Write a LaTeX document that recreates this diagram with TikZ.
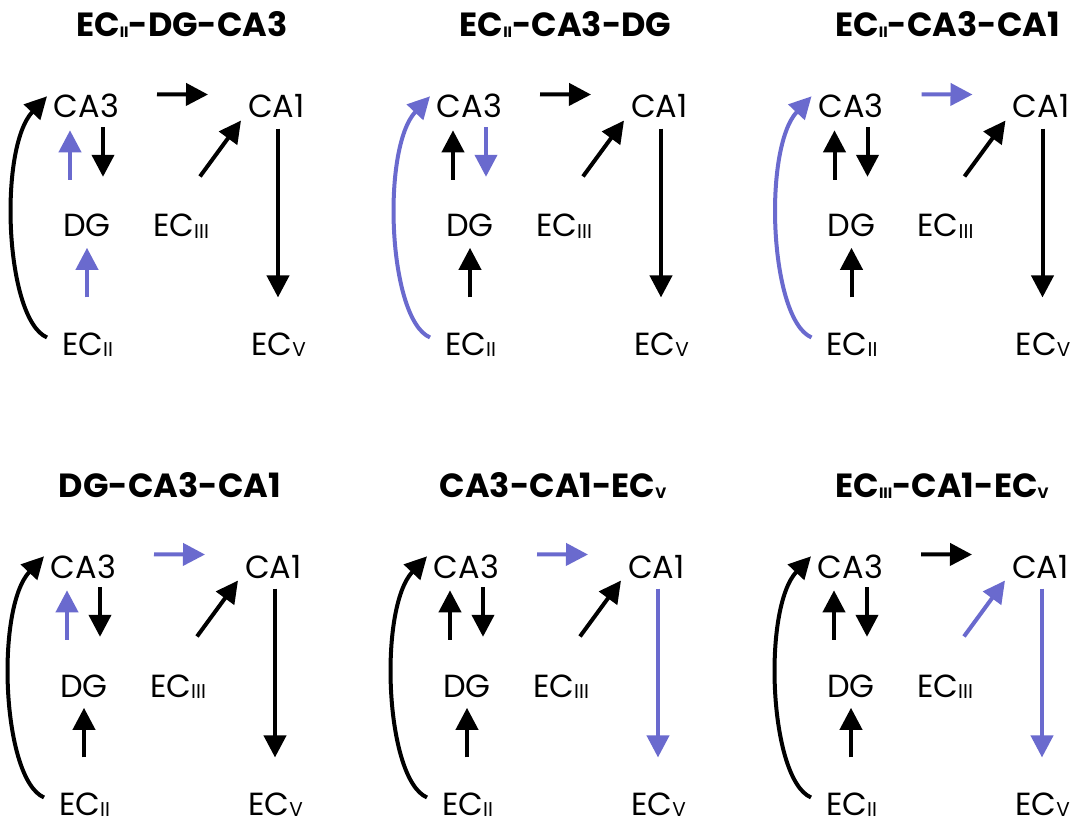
\documentclass[tikz,border=0pt]{standalone}
\usepackage{fontspec}
\setmainfont{Poppins}
\usetikzlibrary{arrows.meta,calc}
\definecolor{bl}{RGB}{106,106,206}
\newcommand\lsub[1]{\raisebox{-1.5pt}{\fontsize{20}{20}\selectfont #1}}
\newcommand\tsub[1]{\raisebox{-1pt}{\fontsize{15}{15}\selectfont\bfseries #1}}
\tikzset{
  lbl/.style={anchor=base, inner sep=0pt, font=\fontsize{32}{32}\selectfont},
  ttl/.style={anchor=base, inner sep=0pt, font=\fontsize{33.5}{33.5}\selectfont\bfseries},
  arr/.style={line width=4pt, -{Triangle[length=22pt,width=22pt]}},
  hl/.style={color=bl},
  ccur/.style={}, cca3ca1/.style={}, cca3dg/.style={}, cdgca3/.style={},
  cecdg/.style={}, cec3/.style={}, cca1ec5/.style={}
}
\newcommand\panel[3]{%
  \node[ttl] (#1t) at (#2,37) {#3};
  \node[lbl] (#1ca3) at (86.5,118) {CA3};
  \node[lbl] (#1ca1) at (276.5,118) {CA1};
  \node[lbl] (#1dg) at (87,237) {DG};
  \node[lbl] (#1ec3) at (181,237) {EC\lsub{III}};
  \node[lbl] (#1ec2) at (87.5,355) {EC\lsub{II}};
  \node[lbl] (#1ec5) at (278.5,355) {EC\lsub{V}};
  \draw[arr,ccur] ($(#1ec2)+(-40.5,-7)$) .. controls ($(#1ec2)+(-82.5,-25)$) and ($(#1ca3)+(-88.5,42)$) .. ($(#1ca3)+(-39.5,-10)$);
  \draw[arr,cca3ca1] ($(#1ca3)+(70.5,-12)$) -- ($(#1ca1)+(-68.5,-12)$);
  \draw[arr,cca3dg] ($(#1ca3)+(16.5,21)$) -- ($(#1dg)+(16,-49)$);
  \draw[arr,cdgca3] ($(#1dg)+(-17,-46)$) -- ($(#1ca3)+(-16.5,24)$);
  \draw[arr,cecdg] ($(#1ec2)+(-0.5,-47)$) -- ($(#1dg)+(0,22)$);
  \draw[arr,cec3] ($(#1ec3)+(19,-50)$) -- ($(#1ca1)+(-35.5,14)$);
  \draw[arr,cca1ec5] ($(#1ca1)+(1.5,22)$) -- ($(#1ec5)+(-0.5,-47)$);
}
\begin{document}
\begin{tikzpicture}[x=1pt,y=-1pt]
\useasboundingbox[fill=white] (0,0) rectangle (1074,821);
\begin{scope}[shift={(0,0)}, cdgca3/.style=hl, cecdg/.style=hl]
  \panel{a}{182}{EC\tsub{II}-DG-CA3}
\end{scope}
\begin{scope}[shift={(383,0)}, ccur/.style=hl, cca3dg/.style=hl]
  \panel{b}{182.5}{EC\tsub{II}-CA3-DG}
\end{scope}
\begin{scope}[shift={(764.5,0)}, ccur/.style=hl, cca3ca1/.style=hl]
  \panel{c}{183}{EC\tsub{II}-CA3-CA1}
\end{scope}
\begin{scope}[shift={(-3,460)}, cdgca3/.style=hl, cca3ca1/.style=hl]
  \panel{d}{173}{DG-CA3-CA1}
\end{scope}
\begin{scope}[shift={(380,460)}, cca3ca1/.style=hl, cca1ec5/.style=hl]
  \panel{e}{173}{CA3-CA1-EC\tsub{V}}
\end{scope}
\begin{scope}[shift={(764,460)}, cec3/.style=hl, cca1ec5/.style=hl]
  \panel{f}{178}{EC\tsub{III}-CA1-EC\tsub{V}}
\end{scope}
\end{tikzpicture}
\end{document}
